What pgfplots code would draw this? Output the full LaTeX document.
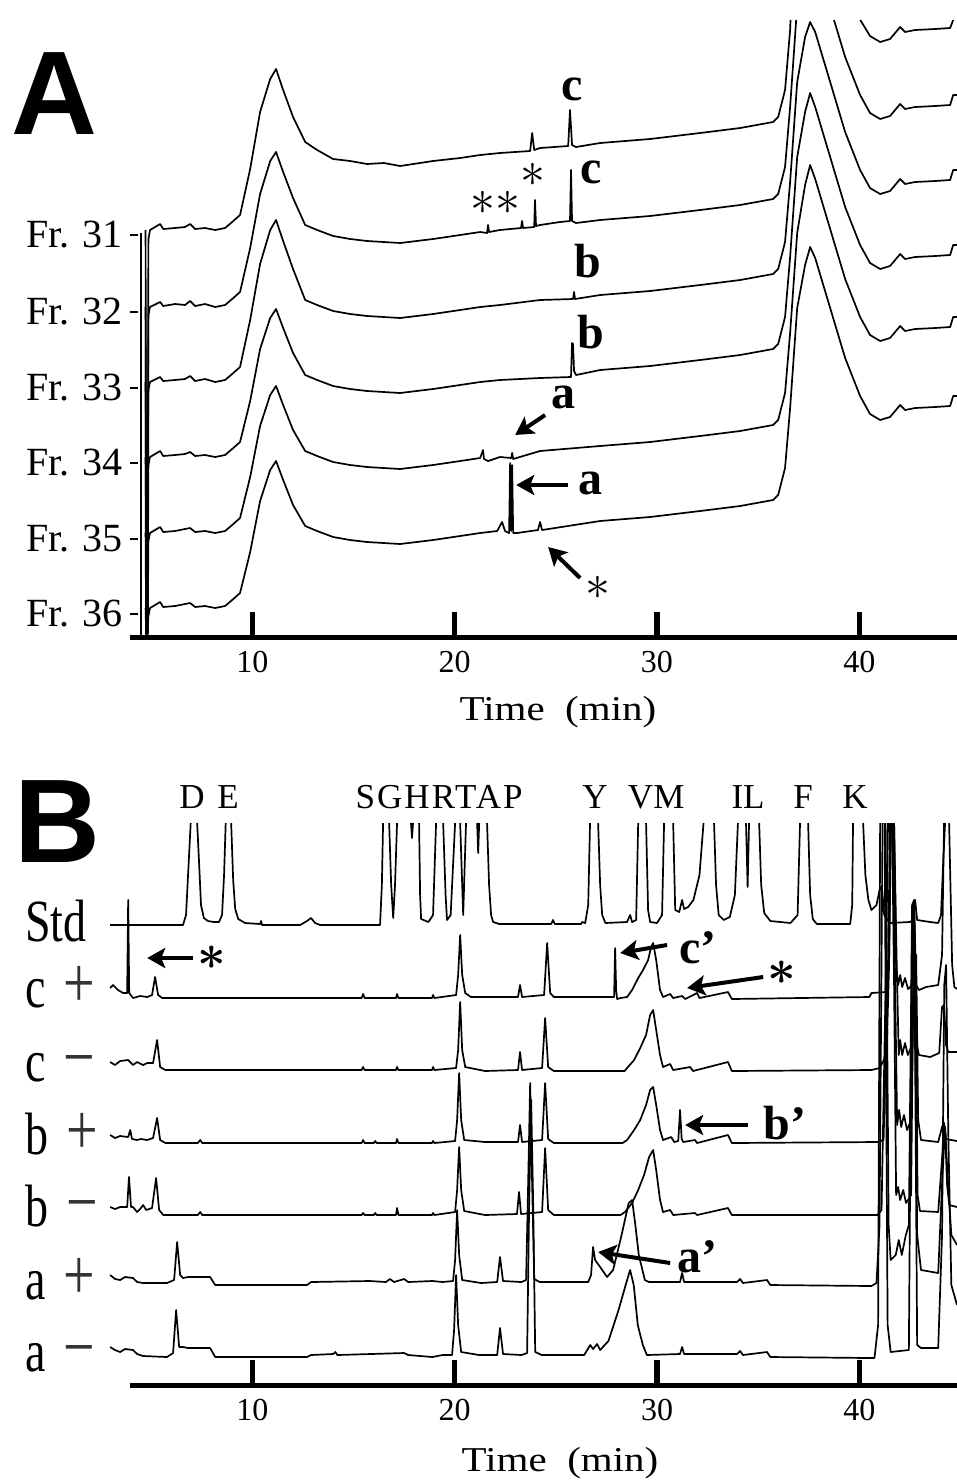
\documentclass[border=0pt]{standalone}
\usepackage{amsmath}
\usepackage{fontspec}
\setmainfont{Liberation Serif}
\newfontfamily\headfont{Liberation Sans}
\usepackage{graphicx}
\usepackage{pgfplots}
\pgfplotsset{compat=1.18}
\usetikzlibrary{arrows.meta}

% vertically stretched row labels of panel B
\newcommand{\blab}[2]{\scalebox{1}[1.3]{#1\hspace{9pt}{\fontsize{28}{28}\selectfont\color{black!80}#2}}}

\pgfplotsset{
  chrom/.style={
    x=10.115pt, y=0.5pt,
    xmin=3.95, xmax=44.83, ymin=0,
    clip=false,
    axis x line=bottom, axis y line=left,
    x axis line style={line width=2.5pt, -},
    y axis line style={draw=none},
    xtick={10,20,30,40},
    xticklabels={10,20,30,40},
    tick align=inside,
    major tick length=12.5pt,
    xtick style={line width=2.8pt, black},
    ytick style={draw=none},
    xticklabel style={font=\fontsize{16}{16}\selectfont, yshift=-3.5pt},
    /pgf/number format/assume math mode=true,
    xlabel={\scalebox{1}[0.85]{Time\ \ (min)}},
    unbounded coords=jump,
  },
  trace/.style={black, line width=0.85pt, mark=none, line join=round},
}
\tikzset{
  ann/.style={line width=2pt, -{Stealth[length=9pt,width=10pt,inset=2pt]}},
  lbl/.style={font=\fontsize{24}{24}\selectfont\bfseries, inner sep=0pt},
  aa/.style={font=\fontsize{17.5}{18}\selectfont, inner sep=0pt},
}

\begin{document}
\begin{tikzpicture}
\useasboundingbox (0pt,0pt) rectangle (478.5pt,-742pt);

\node[font=\headfont\bfseries\fontsize{59.5}{60}\selectfont, inner sep=0pt] at (27pt,-47pt) {A};
\node[font=\headfont\bfseries\fontsize{59.5}{60}\selectfont, inner sep=0pt] at (28.5pt,-411pt) {B};

% ---------------- Panel A: fractions 31-36 ----------------
\begin{axis}[chrom, at={(65pt,-318.5pt)}, anchor=south west,
  ymax=617,
  ytick={23,98,174,249,325,402},
  yticklabels={Fr. 36,Fr. 35,Fr. 34,Fr. 33,Fr. 32,Fr. 31},
  yticklabel style={font=\fontsize{20}{20}\selectfont},
  xlabel style={at={(axis description cs:0.5175,0)}, anchor=center, yshift=-37.5pt, font=\fontsize{20.5}{21}\selectfont},
]
% Fr. 31
\addplot[trace] coordinates {(4.72,407) (4.75,3) (4.82,3) (4.86,398) (4.94,407) (5.44,413) (5.59,408) (6.18,409) (6.67,410) (6.92,413) (7.17,408) (7.66,409) (8.16,407) (8.65,409) (9.00,415) (9.39,422) (9.89,468) (10.38,525) (10.88,558) (11.17,568) (11.52,547) (12.01,520) (12.61,495) (13.20,487) (13.99,478) (14.83,476) (15.67,473) (16.50,474) (17.30,471) (18.93,476) (20.27,479) (21.26,482) (22.24,484) (23.73,486) (23.83,504) (23.93,487) (24.22,489) (25.61,491) (25.70,527) (25.80,492) (26.00,490) (27.19,494) (29.66,498) (32.13,504) (34.11,509) (35.74,515) (35.99,520) (36.33,547) (36.58,607) (36.60,617) (38.00,nan) (40.05,617) (40.53,601) (41.03,595) (41.52,598) (41.77,604) (42.02,610) (42.26,605) (42.76,607) (43.75,608) (44.49,609) (44.64,617)};
% Fr. 32
\addplot[trace] coordinates {(4.72,330) (4.75,3) (4.82,3) (4.86,322) (4.94,330) (5.44,335) (5.59,331) (6.18,333) (6.67,332) (6.92,336) (7.17,331) (7.66,333) (8.16,330) (8.65,332) (9.00,338) (9.39,345) (9.89,389) (10.38,443) (10.88,476) (11.17,485) (11.52,465) (12.01,439) (12.61,412) (13.20,407) (13.99,401) (14.83,398) (15.67,396) (17.30,394) (18.93,398) (20.27,402) (21.26,405) (21.60,404) (21.65,412) (21.70,405) (22.24,407) (23.28,409) (23.33,416) (23.38,409) (23.93,410) (23.97,437) (24.02,411) (24.22,412) (25.21,415) (25.70,416) (25.75,467) (25.80,416) (26.00,414) (27.19,417) (29.66,421) (32.13,427) (34.11,432) (35.74,438) (35.99,443) (36.33,470) (36.58,530) (36.88,617) (37.80,nan) (38.75,617) (39.30,580) (40.04,542) (40.53,524) (41.03,518) (41.52,521) (41.77,527) (42.02,533) (42.26,528) (42.76,530) (43.75,531) (44.49,532) (44.64,542) (44.83,542)};
% Fr. 33
\addplot[trace] coordinates {(4.72,255) (4.75,3) (4.82,3) (4.86,247) (4.94,255) (5.44,260) (5.59,256) (6.18,257) (6.67,258) (6.92,261) (7.17,256) (7.66,258) (8.16,255) (8.65,257) (9.00,263) (9.39,270) (9.89,317) (10.38,373) (10.88,407) (11.17,417) (11.52,396) (12.01,368) (12.61,337) (13.20,332) (13.99,326) (14.83,323) (15.67,321) (17.30,319) (18.93,323) (20.27,327) (21.26,330) (22.24,332) (24.22,337) (25.85,338) (25.90,345) (25.95,338) (27.19,342) (29.66,346) (32.13,352) (34.11,357) (35.74,363) (35.99,368) (36.33,395) (36.58,455) (36.93,555) (37.32,600) (37.57,615) (37.82,605) (38.56,555) (39.30,505) (40.04,467) (40.53,449) (41.03,443) (41.52,446) (41.77,452) (42.02,458) (42.26,453) (42.76,455) (43.75,456) (44.49,457) (44.64,467) (44.83,467)};
% Fr. 34
\addplot[trace] coordinates {(4.72,180) (4.75,3) (4.82,3) (4.86,172) (4.94,180) (5.44,186) (5.59,181) (6.18,182) (6.67,183) (6.92,185) (7.17,181) (7.66,182) (8.16,180) (8.65,182) (9.00,188) (9.39,195) (9.89,236) (10.38,288) (10.88,319) (11.17,328) (11.52,309) (12.01,284) (12.61,262) (13.20,257) (13.99,251) (14.83,248) (15.67,246) (17.30,244) (18.93,248) (20.27,252) (21.26,255) (22.24,257) (24.22,259) (25.75,260) (25.80,294) (25.85,293) (25.90,266) (26.00,262) (27.19,267) (29.66,271) (32.13,277) (34.11,282) (35.74,288) (35.99,293) (36.33,320) (36.58,380) (36.93,480) (37.32,525) (37.57,544) (37.82,530) (38.56,480) (39.30,430) (40.04,392) (40.53,374) (41.03,368) (41.52,371) (41.77,377) (42.02,383) (42.26,378) (42.76,380) (43.75,381) (44.49,382) (44.64,392) (44.83,392)};
% Fr. 35
\addplot[trace] coordinates {(4.72,104) (4.75,3) (4.82,3) (4.86,96) (4.94,104) (5.44,110) (5.59,105) (6.18,106) (6.67,108) (6.92,109) (7.17,105) (7.66,106) (8.16,104) (8.65,106) (9.00,112) (9.39,119) (9.89,160) (10.38,211) (10.88,242) (11.17,251) (11.52,232) (12.01,207) (12.61,186) (13.20,181) (13.99,175) (14.83,172) (15.67,170) (17.30,168) (18.93,172) (20.27,176) (21.26,179) (21.40,187) (21.45,178) (21.65,176) (22.24,180) (22.80,179) (22.84,184) (22.89,178) (24.22,186) (27.19,191) (29.66,195) (32.13,201) (34.11,206) (35.74,212) (35.99,217) (36.33,244) (36.58,304) (36.93,404) (37.32,452) (37.57,472) (37.82,458) (38.56,408) (39.30,358) (40.04,320) (40.53,302) (41.03,296) (41.52,299) (41.77,305) (42.02,311) (42.26,306) (42.76,308) (43.75,309) (44.49,310) (44.64,320) (44.83,320)};
% Fr. 36
\addplot[trace] coordinates {(4.72,29) (4.75,3) (4.82,3) (4.86,21) (4.94,29) (5.44,35) (5.59,30) (6.18,31) (6.67,33) (6.92,34) (7.17,30) (7.66,31) (8.16,29) (8.65,31) (9.00,37) (9.39,44) (9.89,85) (10.38,136) (10.88,167) (11.17,176) (11.52,157) (12.01,132) (12.61,111) (13.20,106) (13.99,100) (14.83,97) (15.67,95) (17.30,93) (18.93,97) (20.27,101) (21.26,104) (22.10,106) (22.34,115) (22.49,106) (22.69,104) (22.74,174) (22.79,106) (22.84,172) (22.89,104) (23.09,104) (24.12,107) (24.22,115) (24.32,107) (27.19,116) (29.66,120) (32.13,126) (34.11,131) (35.74,137) (35.99,142) (36.33,169) (36.58,229) (36.93,329) (37.32,372) (37.57,390) (37.82,379) (38.56,329) (39.30,279) (40.04,241) (40.53,223) (41.03,217) (41.52,220) (41.77,226) (42.02,232) (42.26,227) (42.76,229) (43.75,230) (44.49,231) (44.64,241) (44.83,241)};

% signal axis with its short ticks
\draw[line width=1.1pt] (axis cs:4.50,0) -- (axis cs:4.50,404);
\draw[line width=1pt] (axis cs:3.95,23) -- (axis cs:4.33,23)
  (axis cs:3.95,98) -- (axis cs:4.33,98)
  (axis cs:3.95,174) -- (axis cs:4.33,174)
  (axis cs:3.95,249) -- (axis cs:4.33,249)
  (axis cs:3.95,325) -- (axis cs:4.33,325)
  (axis cs:3.95,402) -- (axis cs:4.33,402);

% peak annotations
\node[lbl] at (axis cs:25.80,548) {c};
\node[font=\fontsize{24}{24}\selectfont, inner sep=0pt] at (axis cs:23.85,462) {$\ast$};
\node[lbl] at (axis cs:26.74,465) {c};
\node[font=\fontsize{24}{24}\selectfont, inner sep=0pt] at (axis cs:22.02,434) {${\ast}{\ast}$};
\node[lbl] at (axis cs:26.59,376) {b};
\node[lbl] at (axis cs:26.74,305) {b};
\draw[ann] (axis cs:24.47,222) -- (axis cs:22.99,202);
\node[lbl] at (axis cs:25.36,240) {a};
\draw[ann] (axis cs:25.61,152) -- (axis cs:23.04,152);
\node[lbl] at (axis cs:26.69,154) {a};
\draw[ann] (axis cs:26.20,59) -- (axis cs:24.62,90);
\node[font=\fontsize{24}{24}\selectfont, inner sep=0pt] at (axis cs:27.09,49) {$\ast$};
\end{axis}

% ---------------- Panel B: amino acid analysis ----------------
\begin{axis}[chrom, at={(65pt,-692.5pt)}, anchor=south west,
  ymax=562,
  ytick={33,105,178,250,323,397,463},
  yticklabels={\blab{a}{−},\blab{a}{+},\blab{b}{−},\blab{b}{+},\blab{c}{−},\blab{c}{+},\scalebox{1}[1.3]{Std}},
  yticklabel style={anchor=base west, xshift=-52.5pt, yshift=-9.5pt, inner sep=0pt, font=\fontsize{23}{23}\selectfont},
  xlabel style={at={(axis description cs:0.52,0)}, anchor=center, yshift=-39pt, font=\fontsize{20.5}{21}\selectfont},
]
% Std
\addplot[trace] coordinates {(2.97,460) (6.57,460) (6.72,470) (6.87,530) (6.95,562) (7.10,nan) (7.27,562) (7.37,520) (7.46,480) (7.60,467) (7.80,464) (8.10,463) (8.35,463) (8.50,470) (8.60,510) (8.68,562) (8.80,nan) (8.95,562) (9.05,505) (9.15,476) (9.30,466) (9.64,462) (10.38,461) (10.43,464) (10.48,460) (12.36,460) (12.70,464) (12.90,467) (13.10,462) (13.35,460) (16.31,460) (16.40,500) (16.46,562) (16.60,nan) (16.76,562) (16.86,500) (16.96,467) (17.05,500) (17.15,562) (17.50,nan) (17.84,562) (17.89,547) (17.94,562) (18.10,nan) (18.24,562) (18.29,490) (18.34,466) (18.70,463) (18.93,470) (19.08,562) (19.25,nan) (19.43,562) (19.55,490) (19.62,465) (19.80,470) (20.02,562) (20.15,nan) (20.27,562) (20.42,470) (20.56,562) (20.85,nan) (21.11,562) (21.16,532) (21.21,562) (21.40,nan) (21.60,562) (21.70,500) (21.80,470) (21.90,463) (22.20,461) (24.77,461) (24.86,465) (24.95,461) (26.25,461) (26.30,463) (26.45,462) (26.60,480) (26.69,562) (26.90,nan) (27.09,562) (27.19,500) (27.29,470) (27.45,462) (28.52,463) (28.67,470) (28.77,463) (28.97,465) (29.07,562) (29.25,nan) (29.46,562) (29.56,475) (29.66,463) (30.00,462) (30.25,470) (30.35,562) (30.60,nan) (30.80,562) (30.90,475) (31.10,473) (31.24,485) (31.34,476) (31.54,478) (31.80,485) (32.10,510) (32.30,562) (32.60,nan) (32.82,562) (32.92,500) (33.05,470) (33.30,465) (33.60,468) (33.85,490) (34.00,562) (34.20,nan) (34.40,562) (34.48,498) (34.55,562) (34.80,nan) (35.05,562) (35.15,500) (35.30,472) (35.60,464) (36.60,462) (36.95,470) (37.07,562) (37.25,nan) (37.47,562) (37.57,490) (37.70,466) (37.90,461) (39.55,461) (39.65,480) (39.69,562) (39.95,nan) (40.19,562) (40.30,510) (40.45,485) (40.60,475) (40.85,480) (41.03,498) (41.13,495) (41.23,470) (41.40,465) (41.50,462) (42.50,463) (42.66,465) (42.76,485) (42.86,465) (43.50,463) (43.90,462) (44.04,470) (44.14,520) (44.24,562)};
% c +
\addplot[trace] coordinates {(2.97,397) (3.11,400) (3.36,395) (3.61,392) (3.81,392) (3.86,485) (3.91,392) (4.10,387) (4.45,389) (4.80,388) (5.04,390) (5.19,408) (5.34,390) (5.54,387) (15.40,387) (15.47,391) (15.55,387) (17.10,387) (17.15,391) (17.22,387) (18.88,387) (18.93,390) (19.00,387) (20.07,390) (20.17,410) (20.27,450) (20.37,410) (20.52,392) (20.80,388) (23.13,388) (23.23,400) (23.33,388) (24.42,390) (24.57,442) (24.72,392) (24.90,388) (27.88,388) (27.93,437) (27.98,395) (28.03,386) (28.20,387) (28.52,388) (28.77,395) (29.07,407) (29.31,415) (29.56,425) (29.71,438) (29.81,442) (29.96,425) (30.15,395) (30.30,388) (30.65,391) (30.80,387) (31.24,389) (31.40,386) (31.98,392) (32.10,387) (33.51,393) (33.70,386) (40.50,388) (40.60,392) (41.30,393) (41.47,420) (41.55,562) (41.63,nan) (41.72,562) (41.82,420) (41.92,400) (42.02,410) (42.12,398) (42.26,407) (42.41,396) (42.61,400) (42.71,485) (42.81,400) (42.95,395) (43.30,398) (43.90,400) (44.09,430) (44.19,562) (44.30,nan) (44.44,562) (44.59,420) (44.70,398) (44.83,396)};
% c -
\addplot[trace] coordinates {(2.97,323) (3.21,320) (3.46,324) (3.86,325) (4.10,320) (4.30,323) (4.60,320) (4.80,322) (5.09,322) (5.29,345) (5.44,318) (5.70,315) (15.40,315) (15.47,318) (15.55,315) (17.10,315) (17.15,318) (17.22,315) (18.88,315) (18.93,318) (19.00,315) (20.07,317) (20.17,335) (20.27,383) (20.37,335) (20.52,318) (21.50,314) (23.13,315) (23.23,333) (23.33,315) (24.32,317) (24.47,367) (24.62,318) (24.90,314) (28.40,314) (28.52,317) (28.87,325) (29.17,337) (29.46,350) (29.66,370) (29.81,375) (29.96,355) (30.15,330) (30.30,318) (30.65,321) (30.80,315) (31.64,318) (31.78,314) (33.51,323) (33.70,314) (40.60,315) (41.00,317) (41.35,330) (41.47,420) (41.57,562) (41.65,nan) (41.72,562) (41.85,420) (41.95,330) (42.02,345) (42.12,330) (42.26,342) (42.40,330) (42.61,340) (42.73,460) (42.85,340) (42.95,330) (43.50,328) (43.95,332) (44.09,378) (44.19,380) (44.29,340) (44.40,333) (44.83,333)};
% b +
\addplot[trace] coordinates {(2.97,250) (3.21,247) (3.46,249) (3.86,248) (3.96,255) (4.05,246) (4.30,245) (4.50,246) (4.80,245) (5.09,247) (5.29,267) (5.44,245) (5.70,242) (7.30,242) (7.42,245) (7.52,242) (15.40,242) (15.47,245) (15.55,242) (16.00,242) (16.07,244) (16.14,242) (17.10,242) (17.15,246) (17.22,242) (18.88,242) (18.93,244) (19.00,242) (20.02,244) (20.12,265) (20.22,312) (20.32,265) (20.47,245) (21.50,243) (23.13,243) (23.23,260) (23.33,243) (24.32,245) (24.47,302) (24.62,246) (24.90,242) (28.30,242) (28.52,245) (28.87,255) (29.17,265) (29.46,280) (29.66,295) (29.81,298) (29.96,280) (30.15,255) (30.30,245) (30.70,248) (30.85,243) (31.05,244) (31.14,275) (31.22,246) (31.30,243) (31.88,245) (31.98,242) (33.51,250) (33.70,242) (40.90,243) (41.20,245) (41.42,420) (41.52,562) (41.60,nan) (41.67,562) (41.77,400) (41.87,260) (41.97,275) (42.07,258) (42.21,270) (42.36,255) (42.56,265) (42.71,420) (42.81,430) (42.91,265) (43.05,245) (43.90,243) (44.09,258) (44.19,262) (44.29,246) (44.83,244)};
% b -
\addplot[trace] coordinates {(2.97,178) (3.21,176) (3.46,178) (3.81,178) (3.90,208) (4.00,178) (4.10,178) (4.30,173) (4.45,176) (4.60,180) (4.75,175) (5.04,177) (5.24,207) (5.39,175) (5.60,170) (7.30,170) (7.42,173) (7.52,170) (15.40,170) (15.47,172) (15.55,170) (16.00,170) (16.07,172) (16.14,170) (17.10,170) (17.15,177) (17.22,170) (18.88,170) (18.93,172) (19.00,170) (20.02,173) (20.12,195) (20.22,238) (20.32,195) (20.47,174) (21.50,170) (23.08,171) (23.18,193) (23.28,171) (24.32,173) (24.47,237) (24.62,175) (24.90,170) (28.20,170) (28.42,173) (28.77,182) (29.07,195) (29.36,210) (29.61,228) (29.81,235) (29.96,215) (30.15,185) (30.30,173) (30.65,175) (30.80,170) (31.88,172) (31.98,170) (33.51,177) (33.70,170) (40.90,170) (41.10,175) (41.32,420) (41.42,562) (41.52,nan) (41.62,562) (41.72,400) (41.82,190) (41.92,198) (42.02,185) (42.17,195) (42.31,182) (42.56,190) (42.68,420) (42.78,425) (42.88,190) (43.00,174) (43.90,173) (44.14,240) (44.24,255) (44.34,200) (44.45,180) (44.83,178)};
% a +
\addplot[trace] coordinates {(2.97,110) (3.21,106) (3.46,105) (3.71,108) (4.10,107) (4.30,103) (4.60,102) (5.78,102) (6.13,105) (6.28,143) (6.43,110) (6.57,107) (6.82,108) (7.91,108) (8.16,100) (12.70,100) (12.90,103) (15.80,104) (16.60,103) (16.80,106) (17.00,103) (17.50,106) (17.70,103) (18.90,104) (19.40,103) (19.92,104) (20.02,125) (20.12,175) (20.22,130) (20.37,105) (21.30,102) (22.10,103) (22.24,128) (22.39,104) (23.30,103) (23.53,105) (23.63,200) (23.73,302) (23.83,200) (23.93,106) (24.20,103) (26.60,103) (26.74,110) (26.84,138) (26.94,125) (27.19,118) (27.53,108) (27.83,115) (28.25,150) (28.60,182) (28.77,185) (28.93,160) (29.10,130) (29.40,105) (29.60,103) (31.14,103) (31.24,112) (31.34,103) (33.96,103) (34.11,106) (34.25,102) (35.44,105) (35.60,100) (40.60,99) (40.85,102) (41.00,160) (41.15,562) (41.22,nan) (41.30,562) (41.45,160) (41.55,125) (41.80,130) (41.95,145) (42.10,130) (42.30,150) (42.45,160) (42.61,480) (42.71,485) (42.86,150) (43.05,115) (43.90,112) (44.09,200) (44.24,258) (44.39,200) (44.55,150) (44.83,140)};
% a -
\addplot[trace] coordinates {(2.97,38) (3.21,35) (3.46,33) (3.71,36) (4.10,35) (4.30,31) (4.60,29) (5.78,28) (6.08,32) (6.23,75) (6.38,38) (6.57,38) (6.82,37) (7.91,37) (8.16,28) (12.70,28) (12.90,30) (13.99,31) (14.10,33) (14.20,30) (17.50,32) (17.70,30) (18.90,28) (19.40,30) (19.87,30) (19.97,55) (20.07,110) (20.17,60) (20.32,33) (21.20,30) (22.10,30) (22.24,57) (22.39,31) (23.30,30) (23.58,32) (23.68,180) (23.78,285) (23.88,180) (23.98,33) (24.30,30) (26.40,30) (26.70,40) (26.84,36) (27.04,41) (27.19,35) (27.60,44) (28.10,75) (28.45,100) (28.67,115) (28.85,100) (29.05,60) (29.30,40) (29.50,30) (31.14,31) (31.24,38) (31.34,31) (33.96,31) (34.11,34) (34.25,30) (35.44,33) (35.60,28) (40.50,27) (40.75,27) (40.93,60) (41.03,562) (41.14,nan) (41.25,562) (41.40,60) (41.55,33) (42.45,35) (42.61,470) (42.71,475) (42.86,40) (43.05,37) (43.90,37) (44.09,150) (44.20,400) (44.29,420) (44.40,250) (44.55,100) (44.83,80)};

% standard peak assignments
\node[aa] at (axis cs:7.02,588) {D};
\node[aa] at (axis cs:8.80,588) {E};
\node[aa] at (axis cs:19.23,588) {\addfontfeatures{LetterSpace=6}SGHRTAP};
\node[aa] at (axis cs:26.94,588) {Y};
\node[aa] at (axis cs:29.96,588) {VM};
\node[aa] at (axis cs:34.50,588) {IL};
\node[aa] at (axis cs:37.22,588) {F};
\node[aa] at (axis cs:39.79,588) {K};

% peak annotations
\draw[ann] (axis cs:7.07,427) -- (axis cs:4.80,427);
\node[font=\fontsize{26}{26}\selectfont, inner sep=0pt] at (axis cs:8.01,427) {$\boldsymbol{\ast}$};
\draw[ann] (axis cs:30.50,440) -- (axis cs:28.18,432);
\node[lbl] at (axis cs:32.03,437) {c’};
\draw[ann] (axis cs:35.25,408) -- (axis cs:31.49,397);
\node[font=\fontsize{26}{26}\selectfont, inner sep=0pt] at (axis cs:36.18,412) {$\boldsymbol{\ast}$};
\draw[ann] (axis cs:34.50,260) -- (axis cs:31.39,260);
\node[lbl] at (axis cs:36.33,262) {b’};
\draw[ann] (axis cs:30.65,122) -- (axis cs:27.09,133);
\node[lbl] at (axis cs:31.98,128) {a’};
\end{axis}
\end{tikzpicture}
\end{document}
